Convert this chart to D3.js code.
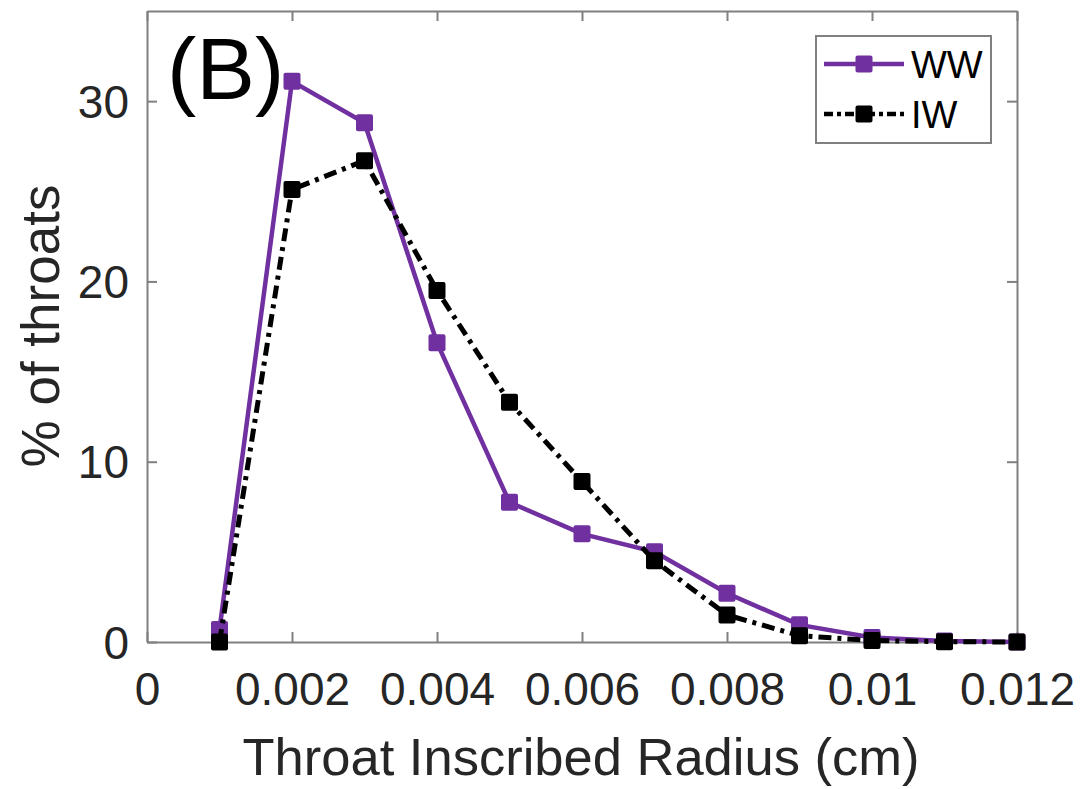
<!DOCTYPE html>
<html>
<head>
<meta charset="utf-8">
<script src="https://cdn.jsdelivr.net/npm/d3@7"></script>
<style>
  html, body { margin: 0; padding: 0; background: #fff; }
  svg { display: block; font-family: "Liberation Sans", Arial, sans-serif; }
</style>
</head>
<body>
<svg id="chart" width="1080" height="789"></svg>
<script>
// --- dati ---
const radius = [0.001, 0.002, 0.003, 0.004, 0.005, 0.006, 0.007, 0.008, 0.009, 0.010, 0.011, 0.012];
const ww = [0.7, 31.1, 28.8, 16.6, 7.75, 6.0, 5.0, 2.7, 0.95, 0.25, 0.05, 0.0];
const iw = [0.0, 25.1, 26.7, 19.5, 13.3, 8.9, 4.5, 1.5, 0.35, 0.08, 0.02, 0.0];
const xTicks = [0, 0.002, 0.004, 0.006, 0.008, 0.01, 0.012];
const yTicks = [0, 10, 20, 30];

const series = [
  { name: "WW", values: ww, color: "#7030a0", dash: null },
  { name: "IW", values: iw, color: "#000000", dash: "13,6,4,6" }
];

const svg = d3.select("#chart");
const margin = { top: 11, right: 63, bottom: 147, left: 147 };
const W = 1080, H = 789;
const innerW = W - margin.left - margin.right;
const innerH = H - margin.top - margin.bottom;

const x = d3.scaleLinear().domain([0, 0.012]).range([0, innerW]);
const y = d3.scaleLinear().domain([0, 35]).range([innerH, 0]);

const g = svg.append("g").attr("transform", `translate(${margin.left},${margin.top})`);

const axisColor = "#808080";
const textColor = "#262626";
const tickLen = 10;

// assi stile MATLAB: tick interni, box completo
const xAxis = g.append("g").attr("transform", `translate(0,${innerH})`)
  .call(d3.axisBottom(x).tickValues(xTicks).tickSizeInner(-tickLen).tickSizeOuter(0)
    .tickPadding(30).tickFormat(d => d3.format("")(+d.toFixed(3))));
const yAxis = g.append("g")
  .call(d3.axisLeft(y).tickValues(yTicks).tickSizeInner(-tickLen).tickSizeOuter(0).tickPadding(18));
const xTop = g.append("g")
  .call(d3.axisTop(x).tickValues(xTicks).tickSizeInner(-tickLen).tickSizeOuter(0).tickFormat(""));
const yRight = g.append("g").attr("transform", `translate(${innerW},0)`)
  .call(d3.axisRight(y).tickValues(yTicks).tickSizeInner(-tickLen).tickSizeOuter(0).tickFormat(""));

[xAxis, yAxis, xTop, yRight].forEach(a => {
  a.selectAll("path, line").attr("stroke", axisColor).attr("stroke-width", 2);
  a.selectAll("text").attr("fill", textColor).style("font-size", "46px")
    .style("font-family", "'Liberation Sans', Arial, sans-serif");
});
xAxis.selectAll("text").attr("dy", "0.71em");
yAxis.selectAll("text").attr("dy", "0.35em");

// linee e marker
const line = d3.line().x((d, i) => x(radius[i])).y(d => y(d));
series.forEach(s => {
  g.append("path")
    .datum(s.values)
    .attr("fill", "none")
    .attr("stroke", s.color)
    .attr("stroke-width", s.dash ? 5 : 4.5)
    .attr("stroke-dasharray", s.dash)
    .attr("d", line);
  g.selectAll(null)
    .data(s.values)
    .enter()
    .append("rect")
    .attr("x", (d, i) => x(radius[i]) - 8.5)
    .attr("y", d => y(d) - 8.5)
    .attr("width", 17)
    .attr("height", 17)
    .attr("rx", 2)
    .attr("fill", s.color);
});

// etichette
svg.append("text")
  .attr("x", margin.left + innerW / 2 - 1)
  .attr("y", 775)
  .attr("text-anchor", "middle")
  .attr("fill", textColor)
  .style("font-size", "52.5px")
  .text("Throat Inscribed Radius (cm)");

svg.append("text")
  .attr("transform", "translate(59,326) rotate(-90)")
  .attr("text-anchor", "middle")
  .attr("fill", textColor)
  .style("font-size", "53px")
  .text("% of throats");

svg.append("text")
  .attr("x", 167)
  .attr("y", 99)
  .attr("fill", "#000")
  .style("font-size", "88px")
  .text("(B)");

// legenda
const leg = svg.append("g");
leg.append("rect")
  .attr("x", 816).attr("y", 36).attr("width", 175).attr("height", 107)
  .attr("fill", "#fff").attr("stroke", axisColor).attr("stroke-width", 2);
series.forEach((s, i) => {
  const ly = 64 + i * 50;
  leg.append("line")
    .attr("x1", 824).attr("x2", 904).attr("y1", ly).attr("y2", ly)
    .attr("stroke", s.color).attr("stroke-width", 4.5)
    .attr("stroke-dasharray", s.dash ? "9,4,4,4" : null);
  leg.append("rect")
    .attr("x", 855.5).attr("y", ly - 8.5).attr("width", 17).attr("height", 17).attr("rx", 2)
    .attr("fill", s.color);
  leg.append("text")
    .attr("x", 911).attr("y", ly).attr("dy", "0.36em")
    .attr("fill", "#000")
    .style("font-size", "38px")
    .text(s.name);
});
</script>
</body>
</html>
